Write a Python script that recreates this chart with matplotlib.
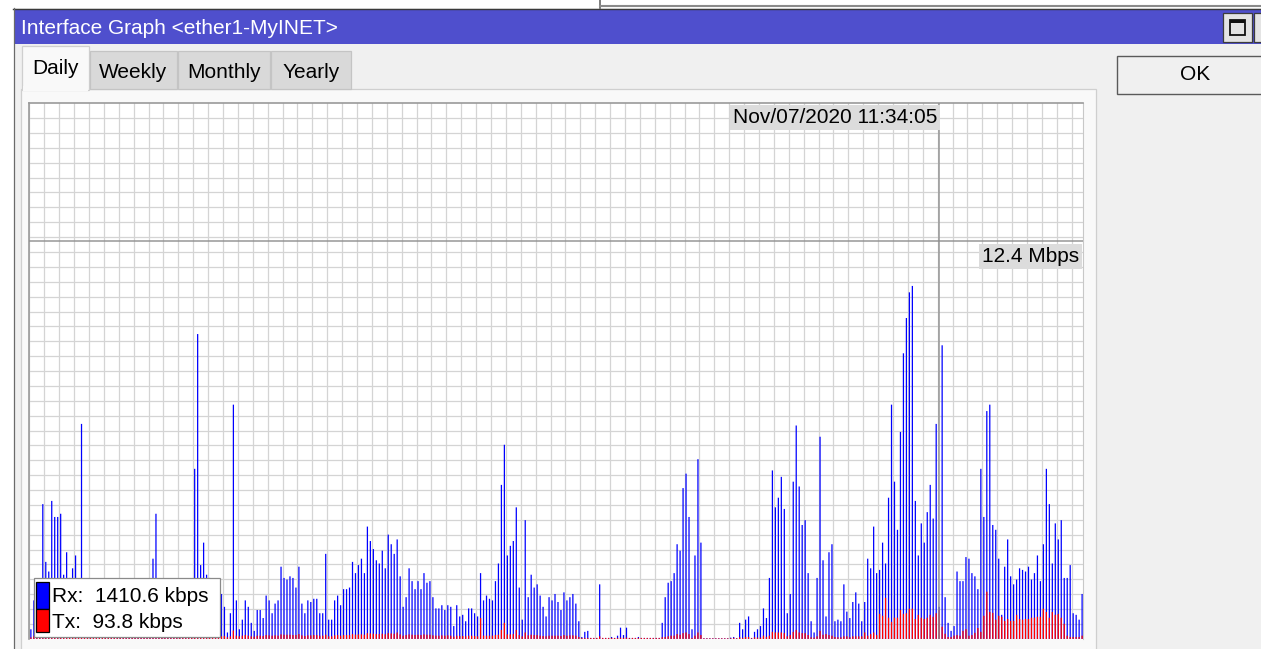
import numpy as np
import matplotlib
matplotlib.use("Agg")
import matplotlib.pyplot as plt
from matplotlib.patches import Rectangle

plt.rcParams['font.family'] = ['Liberation Sans', 'DejaVu Sans']

# daily traffic samples, Mbps (one bar per sample)
rx = [
    0.3, 1.2, 0.9, 1.5, 4.2, 2.4, 2.1, 4.3, 3.8, 3.8, 3.9, 2.0, 2.7, 1.9, 2.2, 2.6, 1.5, 6.7,
    0.9, 0.6, 0.4, 0.3, 0.2, 0.1, 0.1, 0.1, 0.1, 0.1, 0.1, 0.2, 0.3, 0.2, 0.4, 0.5, 0.3, 0.6,
    0.4, 0.8, 0.5, 0.7, 1.2, 2.5, 3.9, 1.4, 0.9, 1.1, 0.7, 1.3, 0.8, 1.0, 1.2, 0.6, 1.5, 1.1,
    1.7, 5.3, 9.5, 2.3, 3.0, 2.0, 1.9, 1.2, 0.8, 1.6, 1.4, 1.0, 0.2, 0.8, 7.3, 1.2, 0.3,
    0.6, 1.2, 1.0, 0.5, 0.25, 0.9, 0.9, 0.65, 1.35, 1.2,
    0.8, 1.1, 1.2, 2.25, 1.9, 1.85, 1.95, 1.9, 1.6, 2.25,
    1.1, 0.8, 1.2, 1.15, 1.25, 1.25, 0.8, 0.8, 2.65, 0.6,
    0.6, 1.2, 1.35, 1.05, 1.55, 1.55, 1.6, 2.4, 2.05, 2.3,
    2.5, 2.05, 3.5, 3.05, 2.8, 2.45, 2.35, 2.75, 2.2, 3.25,
    2.95, 2.65, 3.1, 1.95, 1.0, 1.3, 2.2, 1.8, 1.55, 1.8,
    1.55, 2.05, 1.75, 1.8, 1.3, 0.95, 0.95, 1.05, 0.9, 1.05,
    1.0, 0.4,
    1.05, 0.7, 0.75, 0.55, 0.95, 0.95, 0.8, 0.7, 2.05, 1.2,
    1.35, 1.25, 1.2, 1.8, 2.35, 4.8, 6.05, 2.6, 2.9, 3.05,
    4.1, 1.6, 0.6, 3.7, 1.3, 2.0, 1.6, 1.7, 1.35, 1.0,
    0.7, 1.3, 1.2, 1.4, 1.15, 0.9, 1.45, 1.2, 1.3, 1.4,
    1.1, 0.55, 0.06, 0.22, 0.25, 0.03, 0.03, 0.03, 1.7, 0.03,
    0.03, 0.03, 0.06, 0.03, 0.1, 0.35, 0.12, 0.35, 0.03, 0.03,
    0.03, 0.06, 0.03, 0.03, 0.03, 0.03, 0.03, 0.03, 0.03, 0.5,
    1.3, 1.75, 1.8, 2.05, 2.95, 2.75, 4.7, 5.15, 3.8, 0.3,
    2.6, 5.6, 3.0, 0.02, 0.02, 0.02, 0.02, 0.02, 0.02, 0.02,
    0.02, 0.02, 0.04, 0.06, 0.02, 0.5, 0.3, 0.6, 0.7, 0.03,
    0.22, 0.3, 0.4, 0.95, 0.65, 1.9, 5.25, 4.1, 4.4, 5.05,
    4.05, 0.8, 1.4, 4.9, 6.65, 4.75, 3.55, 3.7, 2.05, 0.55,
    0.2, 1.9, 6.3, 2.45, 0.7, 2.7, 2.95, 0.55, 0.6, 0.55,
    1.7, 0.85, 0.65, 1.15, 1.45, 1.1, 0.55, 1.15, 2.5, 2.2,
    3.5, 2.05,
    2.15, 3.0, 2.35, 4.4, 7.3, 4.9, 3.4, 6.45, 8.9, 10.0,
    10.8, 11.0, 4.3, 2.6, 3.6, 3.0, 3.95, 4.8, 3.75, 6.7,
    1.0, 9.15, 1.3, 0.5, 0.25, 0.4, 2.1, 1.8, 1.8, 2.55,
    2.5, 2.05, 1.95, 1.55, 5.3, 3.8, 7.1, 7.3, 3.55, 3.4,
    2.5, 0.75, 2.25, 3.1, 1.95, 1.7, 1.85, 2.2, 2.15, 2.1,
    2.25, 1.85, 2.05, 2.6, 1.8, 2.95, 5.3, 4.2, 2.35, 3.6,
    3.1, 3.7, 1.9, 1.9, 2.3, 0.8, 0.75, 0.6, 1.4,
]

tx = [
    0.05, 0.08, 0.06, 0.07, 0.09, 0.06, 0.08, 0.07, 0.09, 0.08, 0.06, 0.07, 0.08, 0.06, 0.07, 0.09, 0.06, 0.08,
    0.05, 0.04, 0.03, 0.03, 0.03, 0.03, 0.03, 0.03, 0.03, 0.03, 0.03, 0.03, 0.03, 0.04, 0.05, 0.06,
    0.05, 0.06, 0.07, 0.06, 0.07, 0.06, 0.08,
    0.07, 0.09, 0.08, 0.07, 0.08, 0.09, 0.07, 0.08, 0.09, 0.07, 0.08, 0.08, 0.09, 0.07, 0.1,
    0.12, 0.08, 0.1, 0.09, 0.08, 0.09, 0.08, 0.07, 0.08, 0.09, 0.05, 0.08, 0.26, 0.1, 0.08,
    0.1, 0.12, 0.1, 0.08, 0.07, 0.1, 0.1, 0.09, 0.12, 0.11,
    0.1, 0.11, 0.1, 0.14, 0.13, 0.13, 0.13, 0.12, 0.12, 0.15,
    0.11, 0.09, 0.11, 0.11, 0.12, 0.12, 0.1, 0.1, 0.13, 0.08,
    0.08, 0.11, 0.12, 0.1, 0.12, 0.12, 0.12, 0.15, 0.13, 0.14,
    0.14, 0.13, 0.18, 0.17, 0.16, 0.15, 0.15, 0.16, 0.14, 0.18,
    0.17, 0.16, 0.2, 0.14, 0.1, 0.12, 0.14, 0.13, 0.12, 0.13,
    0.12, 0.14, 0.13, 0.13, 0.11, 0.1, 0.1, 0.11, 0.1, 0.11,
    0.1, 0.07,
    0.1, 0.09, 0.09, 0.08, 0.1, 0.1, 0.09, 0.08, 0.65, 0.1,
    0.1, 0.1, 0.1, 0.12, 0.13, 0.28, 0.5, 0.14, 0.14, 0.15,
    0.28, 0.12, 0.08, 0.2, 0.11, 0.13, 0.12, 0.12, 0.1, 0.09,
    0.08, 0.1, 0.1, 0.1, 0.1, 0.09, 0.12, 0.1, 0.11, 0.11,
    0.1, 0.06, 0.03, 0.03, 0.03, 0.03, 0.03, 0.03, 0.08, 0.03,
    0.03, 0.03, 0.03, 0.03, 0.03, 0.04, 0.03, 0.04, 0.03, 0.03,
    0.03, 0.03, 0.03, 0.03, 0.03, 0.03, 0.03, 0.03, 0.03, 0.05,
    0.06, 0.08, 0.1, 0.1, 0.15, 0.13, 0.18, 0.2, 0.15, 0.03,
    0.1, 0.2, 0.12, 0.02, 0.02, 0.02, 0.02, 0.02, 0.02, 0.02,
    0.02, 0.02, 0.02, 0.03, 0.02, 0.05, 0.03, 0.06, 0.06, 0.02,
    0.05, 0.04, 0.04, 0.1, 0.06, 0.1, 0.22, 0.2, 0.2, 0.2,
    0.18, 0.08, 0.12, 0.22, 0.28, 0.2, 0.18, 0.18, 0.12, 0.05,
    0.04, 0.08, 0.25, 0.13, 0.15, 0.12, 0.1, 0.06, 0.05, 0.05,
    0.08, 0.08, 0.05, 0.08, 0.08, 0.08, 0.08, 0.2, 0.1, 0.15,
    0.2, 0.12,
    0.78, 0.72, 1.28, 0.66, 0.53, 0.66, 0.66, 0.9, 0.78, 0.8,
    0.94, 0.94, 0.62, 0.75, 0.66, 0.62, 0.66, 0.75, 0.69, 0.8,
    0.9, 0.38, 0.16, 0.06, 0.06, 0.1, 0.12, 0.1, 0.25, 0.3,
    0.1, 0.12, 0.19, 0.34, 0.22, 0.72, 1.47, 0.84, 0.81, 0.6,
    0.72, 0.69, 0.56, 0.62, 0.56, 0.56, 0.75, 0.62, 0.6, 0.62,
    0.62, 0.66, 0.66, 0.69, 0.69, 0.94, 0.84, 0.66, 0.84, 0.75,
    0.78, 0.66, 0.47, 0.1, 0.06, 0.06, 0.06, 0.06, 0.1,
]

tabs = ["Daily", "Weekly", "Monthly", "Yearly"]
title = "Interface Graph <ether1-MyINET>"
cursor_idx = 305
cursor_val = 12.4          # Mbps
cursor_time = "Nov/07/2020 11:34:05"
rx_now = 1410.6            # kbps
tx_now = 93.8

W, H = 1261, 649
fig = plt.figure(figsize=(W / 100, H / 100), dpi=100, facecolor='white')

# window chrome, drawn in pixel coordinates
bg = fig.add_axes([0, 0, 1, 1])
bg.set_xlim(0, W)
bg.set_ylim(H, 0)
bg.axis('off')

def box(a, x0, y0, x1, y1, fc, ec='none', lw=1.0, z=1):
    a.add_patch(Rectangle((x0, y0), x1 - x0, y1 - y0, facecolor=fc, edgecolor=ec, linewidth=lw, zorder=z))

box(bg, 13.5, 8, W + 5, H + 5, '#f0f0f0')
bg.plot([600, 600], [0, 8], color='#666666', lw=1.2)
bg.plot([600, W], [6, 6], color='#8a8a8a', lw=1.5)
bg.plot([13, W], [8.5, 8.5], color='#3a3a3a', lw=1.0)
bg.plot([13.5, 13.5], [8, H], color='#6a6a6a', lw=0.9)

# title bar
box(bg, 14, 9, W + 5, 43.5, '#4f4fcd')
bg.text(21, 28, title, color='white', fontsize=15, va='center', ha='left')
box(bg, 1223, 13, 1252, 42, '#e4e4e4', '#3c3c3c', 0.9, 2)
box(bg, 1230, 20, 1245, 35, 'none', '#111111', 1.3, 3)
box(bg, 1230, 20, 1245, 23, '#111111', 'none', 0, 3)
box(bg, 1254, 13, 1264, 42, '#e4e4e4', '#3c3c3c', 0.9, 2)

# tab strip and page
box(bg, 20.5, 88.5, 1096, H + 5, '#f9f9f9', '#cfcfcf', 0.9, 1)
tab_x = [(22, 89), (90, 177), (178, 270), (271, 351)]
for i, (name, (x0, x1)) in enumerate(zip(tabs, tab_x)):
    if i == 0:
        box(bg, x0, 46, x1, 89.5, '#f9f9f9', '#cfcfcf', 0.9, 2)
        box(bg, x0 + 0.8, 86, x1 - 0.8, 91, '#f9f9f9', 'none', 0, 3)
        bg.text((x0 + x1) / 2, 69, name, fontsize=15, ha='center', va='center', zorder=4)
    else:
        box(bg, x0, 51, x1, 88.5, '#d9d9d9', '#c4c4c4', 0.9, 2)
        bg.text((x0 + x1) / 2, 72, name, fontsize=15, ha='center', va='center', zorder=4)

# OK button
box(bg, 1116.5, 55.5, W + 5, 93.5, '#f0f0f0', '#5a5a5a', 1.0, 2)
bg.text(1195, 75, "OK", fontsize=15, ha='center', va='center', zorder=3)

# graph area
left, right, top, bottom = 29.4, 1083.0, 103.2, 638.9
ax = fig.add_axes([left / W, (H - bottom) / H, (right - left) / W, (bottom - top) / H])
ax.set_facecolor('white')

idx = np.arange(len(rx))
ymax = cursor_val * (bottom - top) / (bottom - 241.0)
bar_lw = 0.9   # points, a bit over one pixel
ax.vlines(idx, 0, rx, colors='#0000ff', lw=bar_lw, snap=False, zorder=2)
ax.vlines(idx, 0, tx, colors='#ff0000', lw=bar_lw, snap=False, zorder=3)

ax.set_xlim(-0.5, 353.3)
ax.set_ylim(0, ymax)
ax.set_xticks(np.arange(-0.5, 354, 5))
ax.set_yticks(np.arange(0, ymax, ymax / 36))
ax.grid(True, color='#d4d4d4', lw=0.9)
ax.set_axisbelow(True)
ax.tick_params(length=0, labelbottom=False, labelleft=False)
ax.spines['bottom'].set_visible(False)
for s in ['left', 'top']:
    ax.spines[s].set_color('#9a9a9a')
    ax.spines[s].set_linewidth(1.2)
ax.spines['right'].set_color('#c8c8c8')

# cursor cross-hair with its read-outs
ax.axvline(cursor_idx, color='#8f8f8f', lw=1.2, alpha=0.85, zorder=4)
ax.axhline(cursor_val, color='#8f8f8f', lw=1.2, alpha=0.85, zorder=4)
ax.annotate(cursor_time, xy=(cursor_idx, 1), xycoords=('data', 'axes fraction'),
            xytext=(-2, -5), textcoords='offset pixels', ha='right', va='top', fontsize=15,
            bbox=dict(boxstyle='square,pad=0.15', fc='#dcdcdc', ec='none'), zorder=5)
ax.annotate(f"{cursor_val:.1f} Mbps", xy=(1, cursor_val), xycoords=('axes fraction', 'data'),
            xytext=(-4, -6), textcoords='offset pixels', ha='right', va='top', fontsize=15,
            bbox=dict(boxstyle='square,pad=0.15', fc='#dcdcdc', ec='none'), zorder=5)

# legend overlay
fg = fig.add_axes([0, 0, 1, 1])
fg.set_xlim(0, W)
fg.set_ylim(H, 0)
fg.axis('off')
fg.patch.set_alpha(0)
box(fg, 33.5, 578, 220, 637, 'white', '#8a8a8a', 0.9, 1)
box(fg, 35.5, 581.5, 49, 608.5, '#0000ff', 'black', 0.9, 2)
box(fg, 35.5, 608.5, 49, 632, '#ff0000', 'black', 0.9, 2)
fg.text(52.5, 596, f"Rx:  {rx_now:.1f} kbps", fontsize=15, va='center', ha='left', zorder=3)
fg.text(52.5, 622, f"Tx:  {tx_now:.1f} kbps", fontsize=15, va='center', ha='left', zorder=3)

plt.savefig("out.png", dpi=100)
